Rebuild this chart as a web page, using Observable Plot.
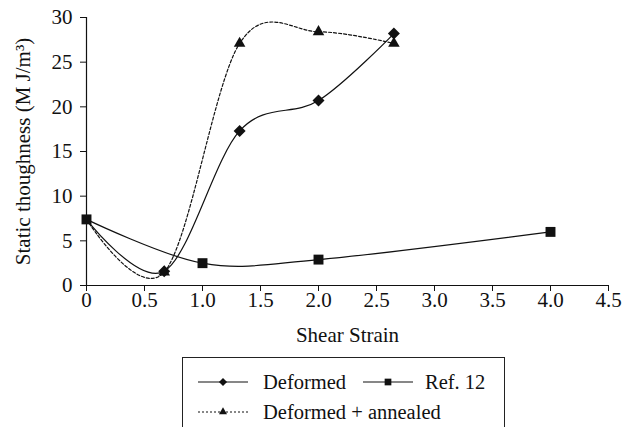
<!DOCTYPE html>
<html>
<head>
<meta charset="utf-8">
<script src="https://cdn.jsdelivr.net/npm/d3@7"></script>
<script src="https://cdn.jsdelivr.net/npm/@observablehq/plot@0.6"></script>
<style>
  html, body { margin: 0; padding: 0; background: #fff; overflow: hidden; }
  #wrap { position: relative; width: 622px; height: 427px; font-family: "Liberation Serif", serif; }
  #wrap svg text { font-family: "Liberation Serif", serif !important; font-size: 21px !important; fill: #111; }
  #legend { position: absolute; left: 182px; top: 357px; width: 323px; height: 100px; border: 1px solid #222; box-sizing: border-box; }
  .li { position: absolute; font-family: "Liberation Serif", serif; font-size: 20.5px; color: #111; line-height: 1; }
  .ls { position: absolute; }
</style>
</head>
<body>
<div id="wrap"></div>
<script>
// Data
const deformedX = [0, 0.67, 1.32, 2.0, 2.65];
const deformedY = [7.4, 1.6, 17.3, 20.7, 28.2];
const refX = [0, 1.0, 2.0, 4.0];
const refY = [7.4, 2.5, 2.9, 6.0];
const annealedX = [0, 0.67, 1.32, 2.0, 2.65];
const annealedY = [7.4, 1.5, 27.1, 28.4, 27.1];
const xTicks = [0, 0.5, 1.0, 1.5, 2.0, 2.5, 3.0, 3.5, 4.0, 4.5];
const yTicks = [0, 5, 10, 15, 20, 25, 30];
const seriesNames = ["Deformed", "Ref. 12", "Deformed + annealed"];

const toRows = (xs, ys) => xs.map((x, i) => ({x, y: ys[i]}));
const deformed = toRows(deformedX, deformedY);
const ref = toRows(refX, refY);
const annealed = toRows(annealedX, annealedY);

const ink = "#111";
const chart = Plot.plot({
  width: 622,
  height: 350,
  marginLeft: 86,
  marginRight: 14,
  marginTop: 17,
  marginBottom: 65,
  style: {fontFamily: "'Liberation Serif', serif", fontSize: "21px", color: ink, background: "#fff"},
  x: {domain: [0, 4.5]},
  y: {domain: [0, 30]},
  marks: [
    Plot.axisX({ticks: xTicks, tickSize: 6, tickPadding: 1, tickFormat: d => d === 0 ? "0" : d.toFixed(1),
      label: "Shear Strain", labelArrow: "none", labelAnchor: "center", labelOffset: 56, stroke: ink}),
    Plot.axisY({ticks: yTicks, tickSize: 6, tickPadding: 8, tickFormat: d => String(d),
      label: "Static thoughness (M J/m³)", labelArrow: "none", labelAnchor: "center", labelOffset: 71, stroke: ink}),
    Plot.ruleX([0], {stroke: ink, strokeWidth: 1.2}),
    Plot.ruleY([0], {stroke: ink, strokeWidth: 1.2}),
    Plot.line(ref, {x: "x", y: "y", curve: "catmull-rom", tension: 0, stroke: ink, strokeWidth: 1.2}),
    Plot.line(deformed, {x: "x", y: "y", curve: "catmull-rom", tension: 0, stroke: ink, strokeWidth: 1.2}),
    Plot.line(annealed, {x: "x", y: "y", curve: "catmull-rom", tension: 0, stroke: ink, strokeWidth: 1.2, strokeDasharray: "3,2"}),
    Plot.dot(deformed, {x: "x", y: "y", filter: d => d.x > 0, symbol: "diamond2", r: 5.4, fill: ink, stroke: "none"}),
    Plot.dot(annealed, {x: "x", y: "y", filter: d => d.x > 0, symbol: "triangle", r: 4.3, fill: ink, stroke: "none"}),
    Plot.dot(ref, {x: "x", y: "y", symbol: "square", r: 5.6, fill: ink, stroke: "none"})
  ]
});
const wrap = document.getElementById("wrap");
wrap.appendChild(chart);

// Legend (HTML below the SVG)
const legend = document.createElement("div");
legend.id = "legend";
wrap.appendChild(legend);
function sample(left, top, symType, size, dashed) {
  const s = d3.create("svg").attr("width", 52).attr("height", 14).attr("class", "ls")
    .style("left", left + "px").style("top", top + "px");
  s.append("line").attr("x1", 0).attr("x2", 50).attr("y1", 7).attr("y2", 7)
    .attr("stroke", ink).attr("stroke-width", 1.2).attr("stroke-dasharray", dashed ? "2,2" : null);
  s.append("path").attr("d", d3.symbol(symType, size)()).attr("transform", "translate(25,7)").attr("fill", ink);
  legend.appendChild(s.node());
}
function label(left, top, text) {
  const d = document.createElement("div");
  d.className = "li";
  d.style.left = left + "px";
  d.style.top = top + "px";
  d.textContent = text;
  legend.appendChild(d);
}
sample(15, 17, d3.symbolDiamond2, 42, false);
label(80, 14, seriesNames[0]);
sample(180, 17, d3.symbolSquare, 45, false);
label(242, 14, seriesNames[1]);
sample(15, 47, d3.symbolTriangle, 28, true);
label(80, 44, seriesNames[2]);
</script>
</body>
</html>
